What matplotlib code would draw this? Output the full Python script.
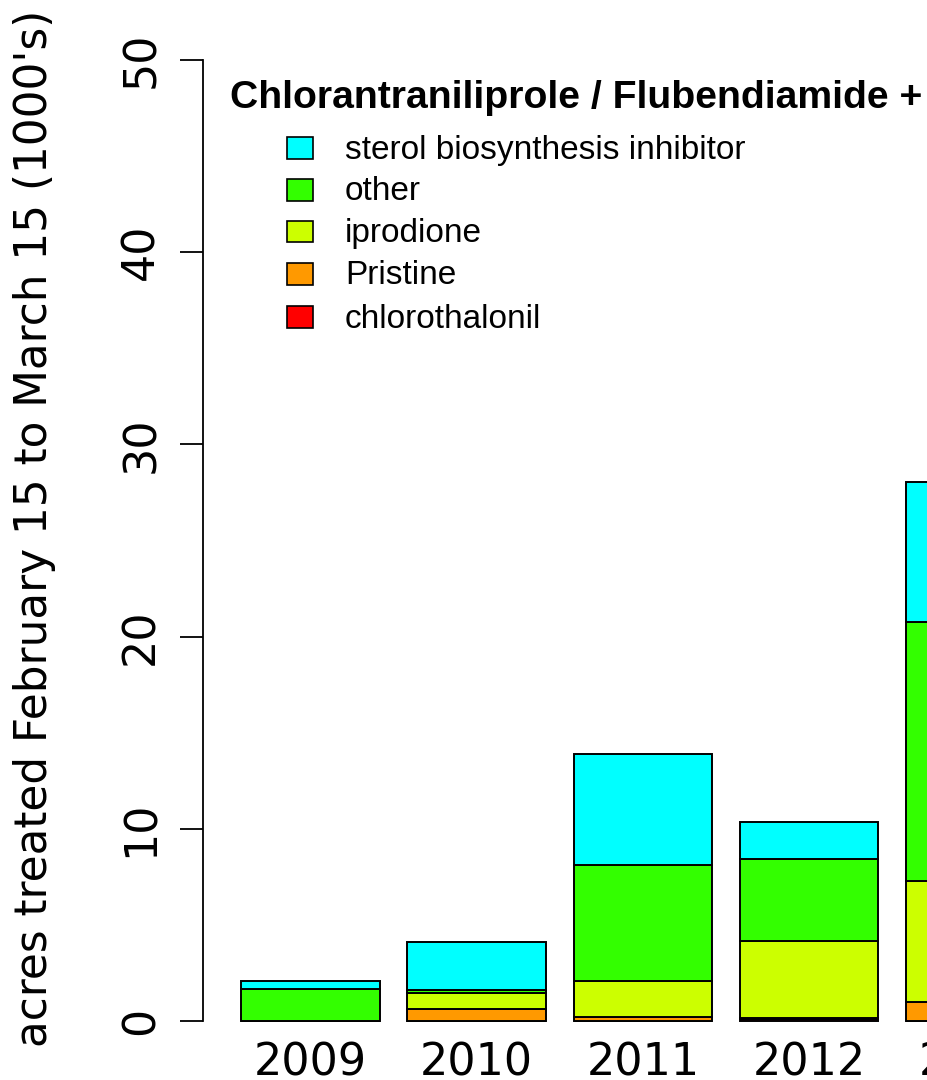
import matplotlib
matplotlib.use("Agg")
import matplotlib.pyplot as plt
from matplotlib.patches import Rectangle
import numpy as np

# ---- data (acres treated, 1000's) ----
years = ["2009", "2010", "2011", "2012", "2013"]
chlorothalonil = [0.0, 0.0, 0.02, 0.08, 0.0]
pristine = [0.0, 0.64, 0.20, 0.10, 1.00]
iprodione = [0.0, 0.80, 1.86, 3.98, 6.28]
other = [1.65, 0.17, 6.04, 4.27, 13.49]
sterol = [0.43, 2.50, 5.77, 1.92, 7.27]

series_names = ["chlorothalonil", "Pristine", "iprodione", "other",
                "sterol biosynthesis inhibitor"]
series_colors = ["#FF0000", "#FF9900", "#CCFF00", "#33FF00", "#00FFFF"]
legend_title = "Chlorantraniliprole / Flubendiamide +"
y_label = "acres treated February 15 to March 15 (1000's)"
y_ticks = [0, 10, 20, 30, 40, 50]

W, H = 928, 1080
fig = plt.figure(figsize=(W / 100, H / 100), dpi=100)
fig.patch.set_facecolor("white")

# axes placement in pixels
ax_left_px, ax_bottom_px, ax_top_px = 203, 1021, 60
px_per_unit = 138.6
x0_px = 213.2
ax = fig.add_axes([ax_left_px / W, (H - ax_bottom_px) / H,
                   (W - ax_left_px) / W, (ax_bottom_px - ax_top_px) / H])
ax.set_xlim((ax_left_px - x0_px) / px_per_unit, (W - x0_px) / px_per_unit)
ax.set_ylim(0, 50)
ax.patch.set_alpha(0)

series = [chlorothalonil, pristine, iprodione, other, sterol]
centers = 0.7 + 1.2 * np.arange(len(years))
bottom = np.zeros(len(years))
for vals, name, col in zip(series, series_names, series_colors):
    vals = np.array(vals)
    ax.bar(centers, vals, width=1.0, bottom=bottom, color=col,
           edgecolor="black", linewidth=1.4, label=name, clip_on=False)
    bottom += vals

# axes styling
for s in ["top", "right", "bottom"]:
    ax.spines[s].set_visible(False)
ax.spines["left"].set_bounds(0, 50)
ax.spines["left"].set_linewidth(1.3)
ax.set_yticks(y_ticks)
ax.set_yticklabels([str(t) for t in y_ticks], rotation=90, va="center",
                   fontsize=32, family="DejaVu Sans")
ax.tick_params(axis="y", length=16.5, width=1.3, pad=12.5, direction="out")
ax.set_xticks([])

# year labels
ylab_y = -(1076 - 1021) / ((ax_bottom_px - ax_top_px) / 50)
for c, yr in zip(centers, years):
    ax.text(c, ylab_y, yr, ha="center", va="baseline", fontsize=32,
            family="DejaVu Sans", clip_on=False)

# y axis label
fig.text(35 / W, 1 - 528 / H, y_label, rotation=90, ha="center", va="center",
         fontsize=31.5, family="DejaVu Sans")

# legend title
fig.text(230 / W, 1 - 108 / H, legend_title, ha="left", va="baseline",
         fontsize=28.2, fontweight="bold", family="Liberation Sans")

# legend entries (top to bottom: reversed stacking order)
row_centers = [148, 190, 232, 274, 317]
for yc, name, col in zip(row_centers, series_names[::-1], series_colors[::-1]):
    fig.patches.append(Rectangle((287 / W, 1 - (yc + 10.5) / H), 26 / W, 21 / H,
                                 transform=fig.transFigure, facecolor=col,
                                 edgecolor="black", linewidth=1.2))
    fig.text(345 / W, 1 - (yc + 10.5) / H, name, ha="left", va="baseline",
             fontsize=24, family="Liberation Sans")

fig.savefig("out.png", dpi=100, facecolor="white")
